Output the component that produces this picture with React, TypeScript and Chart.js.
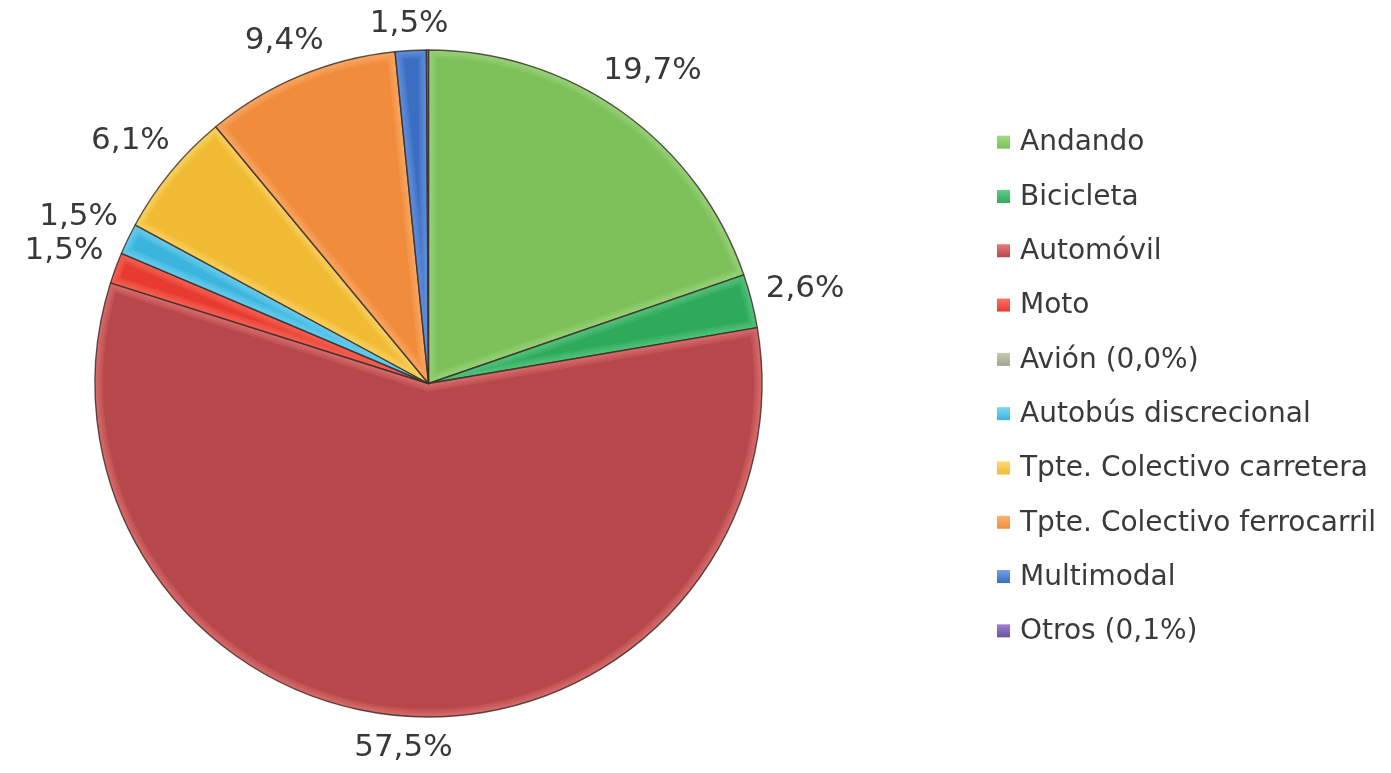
import React, { useEffect, useRef } from "react";
import { Chart, registerables } from "chart.js";

Chart.register(...registerables);

const categories = [
  "Andando",
  "Bicicleta",
  "Automóvil",
  "Moto",
  "Avión (0,0%)",
  "Autobús discrecional",
  "Tpte. Colectivo carretera",
  "Tpte. Colectivo ferrocarril",
  "Multimodal",
  "Otros (0,1%)",
];
const shares = [19.7, 2.6, 57.5, 1.5, 0.0, 1.5, 6.1, 9.4, 1.5, 0.1];
const sliceLabels = ["19,7%", "2,6%", "57,5%", "1,5%", "", "1,5%", "6,1%", "9,4%", "1,5%", ""];
const colors = [
  "#7cc15a",
  "#2eaa5c",
  "#b6484b",
  "#e63b2e",
  "#a0a48c",
  "#3bb5dd",
  "#f0ba32",
  "#f08c3c",
  "#3b6ec0",
  "#6b4fa0",
];
const highlights = [
  "#a2dc84",
  "#62cc8a",
  "#e87a7c",
  "#ff7264",
  "#c8ccb4",
  "#7ad8f4",
  "#ffda70",
  "#ffb274",
  "#70a0e6",
  "#a084d4",
];

const LABEL_FONT = 31;
const LEGEND_FONT = 28;

const bevelPlugin = {
  id: "bevel",
  afterDatasetsDraw(chart: any) {
    const ctx = chart.ctx;
    const meta = chart.getDatasetMeta(0);
    meta.data.forEach((arc: any, i: number) => {
      const { x, y, startAngle, endAngle, outerRadius } = arc.getProps(
        ["x", "y", "startAngle", "endAngle", "outerRadius"],
        true
      );
      if (endAngle - startAngle < 1e-4) return;
      const path = () => {
        ctx.beginPath();
        ctx.moveTo(x, y);
        ctx.arc(x, y, outerRadius, startAngle, endAngle);
        ctx.closePath();
      };
      ctx.save();
      path();
      ctx.clip();
      ctx.strokeStyle = highlights[i];
      ctx.lineJoin = "round";
      [16, 12, 8, 5].forEach((w) => {
        ctx.globalAlpha = 0.22;
        ctx.lineWidth = w;
        path();
        ctx.stroke();
      });
      ctx.restore();
      ctx.save();
      path();
      ctx.strokeStyle = "rgba(55,45,40,0.8)";
      ctx.lineWidth = 1.4;
      ctx.lineJoin = "round";
      ctx.stroke();
      ctx.restore();
    });
  },
};

const outsideLabelPlugin = {
  id: "outsideLabels",
  afterDraw(chart: any) {
    const ctx = chart.ctx;
    const meta = chart.getDatasetMeta(0);
    ctx.save();
    ctx.font = `${LABEL_FONT}px "DejaVu Sans", Verdana, sans-serif`;
    ctx.fillStyle = "#383838";
    ctx.textAlign = "center";
    ctx.textBaseline = "middle";
    const gap = 14;
    const halfH = 12;
    meta.data.forEach((arc: any, i: number) => {
      const text = sliceLabels[i];
      if (!text) return;
      const { x, y, startAngle, endAngle, outerRadius } = arc.getProps(
        ["x", "y", "startAngle", "endAngle", "outerRadius"],
        true
      );
      const mid = (startAngle + endAngle) / 2;
      const dx = Math.cos(mid);
      const dy = Math.sin(mid);
      const halfW = ctx.measureText(text).width / 2;
      const extent = Math.abs(dx) * halfW + Math.abs(dy) * halfH;
      const d = outerRadius + gap + extent;
      ctx.fillText(text, x + dx * d, y + dy * d + 2);
    });
    ctx.restore();
  },
};

const legendPlugin = {
  id: "sideLegend",
  afterDraw(chart: any) {
    const ctx = chart.ctx;
    const labels = chart.data.labels as string[];
    const bg = chart.data.datasets[0].backgroundColor as string[];
    const boxX = 997;
    const step = 54.3;
    const box = 13;
    const firstY = chart.height / 2 - (step * (labels.length - 1)) / 2;
    ctx.save();
    ctx.font = `${LEGEND_FONT}px "DejaVu Sans", Verdana, sans-serif`;
    ctx.textBaseline = "middle";
    ctx.textAlign = "left";
    labels.forEach((lab, i) => {
      const cy = firstY + i * step;
      const g = ctx.createLinearGradient(0, cy - box / 2, 0, cy + box / 2);
      g.addColorStop(0, highlights[i]);
      g.addColorStop(1, bg[i]);
      ctx.fillStyle = g;
      ctx.fillRect(boxX, cy - box / 2, box, box);
      ctx.fillStyle = "#3a3a3a";
      ctx.fillText(lab, boxX + 23, cy + 1);
    });
    ctx.restore();
  },
};

export default function App() {
  const canvasRef = useRef<HTMLCanvasElement | null>(null);

  useEffect(() => {
    if (!canvasRef.current) return;
    const chart = new Chart(canvasRef.current, {
      type: "pie",
      data: {
        labels: categories,
        datasets: [
          {
            data: shares,
            backgroundColor: colors,
            borderWidth: 0,
          },
        ],
      },
      options: {
        responsive: false,
        animation: false,
        layout: {
          padding: { top: 50, bottom: 56, left: 95, right: 629 },
        },
        plugins: {
          legend: { display: false },
          tooltip: { enabled: false },
        },
      },
      plugins: [bevelPlugin, outsideLabelPlugin, legendPlugin],
    });
    return () => chart.destroy();
  }, []);

  return (
    <div style={{ position: "fixed", left: 0, top: 0, width: 1391, height: 773, background: "#ffffff" }}>
      <canvas ref={canvasRef} width={1391} height={773} />
    </div>
  );
}
